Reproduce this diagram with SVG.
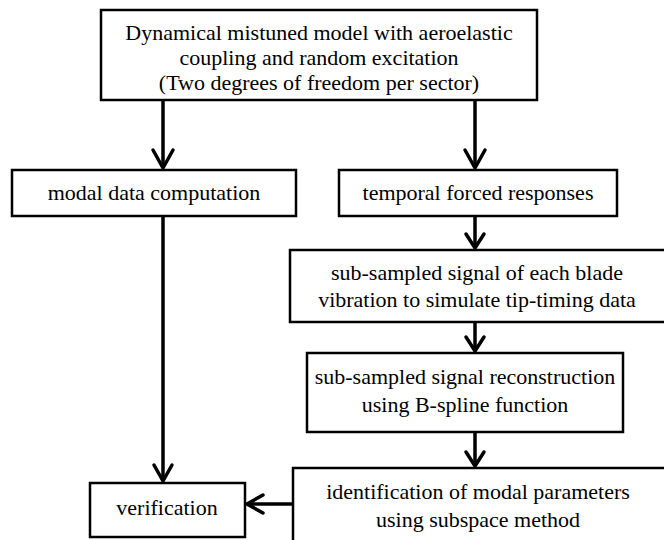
<svg xmlns="http://www.w3.org/2000/svg" width="664" height="540" viewBox="0 0 664 540">
<style>
.box{fill:#fff;stroke:#000;stroke-width:2.5}
.t{font-family:"Liberation Serif","DejaVu Serif","Times New Roman",serif;font-size:22px;fill:#000;text-anchor:middle}
.c{fill:none;stroke:#000;stroke-width:3.5}
.h{fill:none;stroke:#000;stroke-width:3.5;stroke-linecap:round;stroke-linejoin:miter}
</style>
<rect width="664" height="540" fill="#fff"/>
<g id="connectors">
<line class="c" x1="163" y1="100" x2="163" y2="168"/>
<polyline class="h" points="153,150 163,168 173,150"/>
<line class="c" x1="475" y1="100" x2="475" y2="168"/>
<polyline class="h" points="465,150 475,168 485,150"/>
<line class="c" x1="475" y1="216" x2="475" y2="248"/>
<polyline class="h" points="466,234 475,248 484,234"/>
<line class="c" x1="475" y1="322" x2="475" y2="351"/>
<polyline class="h" points="466,337 475,351 484,337"/>
<line class="c" x1="475" y1="432" x2="475" y2="466"/>
<polyline class="h" points="466,452 475,466 484,452"/>
<line class="c" x1="163" y1="216" x2="163" y2="481"/>
<polyline class="h" points="154,465 163,481 172,465"/>
<line class="c" x1="293" y1="504" x2="247" y2="504"/>
<polyline class="h" points="263,495 247,504 263,513"/>
</g>
<g id="n1">
<rect class="box" x="101" y="10" width="436" height="90"/>
<text class="t" x="319" y="40">Dynamical mistuned model with aeroelastic</text>
<text class="t" x="319" y="65">coupling and random excitation</text>
<text class="t" x="319" y="90">(Two degrees of freedom per sector)</text>
</g>
<g id="n2">
<rect class="box" x="12" y="170" width="284" height="46"/>
<text class="t" x="154" y="200">modal data computation</text>
</g>
<g id="n3">
<rect class="box" x="339" y="170" width="278" height="46"/>
<text class="t" x="478" y="200">temporal forced responses</text>
</g>
<g id="n4">
<rect class="box" x="290" y="250" width="380" height="72"/>
<text class="t" x="477" y="280">sub-sampled signal of each blade</text>
<text class="t" x="477" y="307">vibration to simulate tip-timing data</text>
</g>
<g id="n5">
<rect class="box" x="307" y="353" width="316" height="79"/>
<text class="t" x="465" y="384">sub-sampled signal reconstruction</text>
<text class="t" x="465" y="412">using B-spline function</text>
</g>
<g id="n6">
<rect class="box" x="293" y="468" width="380" height="80"/>
<text class="t" x="478" y="499">identification of modal parameters</text>
<text class="t" x="478" y="527">using subspace method</text>
</g>
<g id="n7">
<rect class="box" x="90" y="483" width="155" height="54"/>
<text class="t" x="167" y="515">verification</text>
</g>
</svg>
